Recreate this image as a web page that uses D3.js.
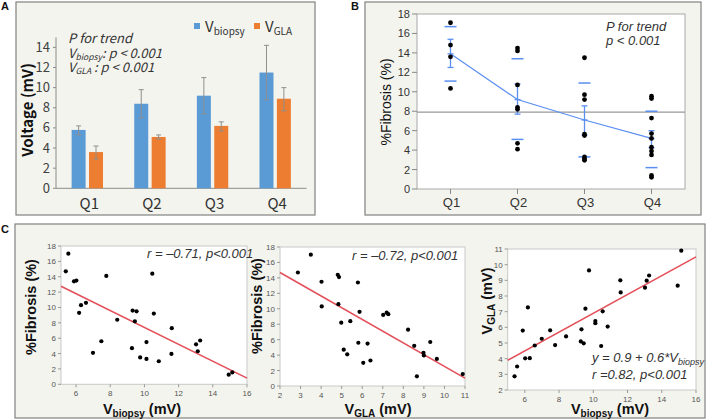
<!DOCTYPE html>
<html><head><meta charset="utf-8">
<script src="https://cdn.jsdelivr.net/npm/d3@7"></script>
<style>body{margin:0;background:#fff} svg{display:block}</style>
</head><body><svg id="c" width="709" height="419"></svg>
<script>
// ---------- DATA ----------
const quartiles = ["Q1", "Q2", "Q3", "Q4"];
const voltageTicks = [0, 2, 4, 6, 8, 10, 12, 14];
const vBiopsyMean = [5.8, 8.4, 9.2, 11.5];
const vBiopsyErrLow = [5.3, 7.0, 7.4, 8.8];
const vBiopsyErrHigh = [6.2, 9.8, 11.0, 14.2];
const vGlaMean = [3.6, 5.1, 6.2, 8.9];
const vGlaErrLow = [2.9, 4.9, 5.7, 7.7];
const vGlaErrHigh = [4.2, 5.3, 6.6, 10.0];

const fibrosisTicks = [0, 2, 4, 6, 8, 10, 12, 14, 16, 18];
const fibQ1 = [17.1, 14.8, 13.6, 10.35];
const fibQ2 = [14.5, 14.2, 10.7, 8.4, 8.2, 4.7, 4.1];
const fibQ3 = [13.5, 9.7, 9.2, 5.65, 5.5, 3.3, 3.1, 2.95];
const fibQ4 = [9.55, 9.3, 7.3, 5.7, 5.2, 4.3, 3.9, 3.5, 1.4, 1.2];
const fibMean = [13.9, 9.2, 7.1, 5.2];
const fibSeLow = [12.5, 7.7, 5.55, 4.25];
const fibSeHigh = [15.4, 10.8, 8.55, 6.0];
const fibSdLow = [11.1, 5.1, 3.3, 2.2];
const fibSdHigh = [16.7, 13.4, 10.9, 8.0];
const fibOverallMean = 7.9;

const patVbiopsy = [5.40, 5.55, 5.88, 6.02, 6.18, 6.29, 6.58, 6.99, 7.48, 7.77, 8.41, 9.27, 9.31, 9.44,
  9.54, 9.75, 10.12, 10.12, 10.46, 10.55, 10.84, 11.60, 11.58, 13.02, 13.12, 13.26, 14.93, 15.14];
const patVgla = [2.87, 3.50, 5.79, 4.02, 7.27, 4.03, 4.84, 5.27, 5.81, 4.87, 5.42, 5.10, 5.87, 4.98,
  7.19, 9.63, 6.26, 6.40, 4.81, 7.02, 6.05, 8.23, 9.00, 8.53, 8.98, 9.31, 8.66, 10.89];
const patFibrosis = [14.7, 17.0, 13.4, 13.5, 9.3, 10.3, 10.6, 4.1, 5.6, 14.1, 8.4, 4.7, 9.6, 8.2,
  9.5, 3.5, 5.5, 3.3, 14.4, 9.2, 3.0, 7.3, 3.95, 5.2, 4.3, 5.7, 1.25, 1.55];

const fitVbiopsyFib = [18.4, -1.1];   // intercept, slope
const fitVglaFib = [17.74, -1.52];
const fitVbiopsyVgla = [0.9, 0.6];

const c1XTicks = [6, 8, 10, 12, 14, 16];
const c2XTicks = [2, 3, 4, 5, 6, 7, 8, 9, 10, 11];
const c3XTicks = [6, 8, 10, 12, 14, 16];
const c3YTicks = [2, 3, 4, 5, 6, 7, 8, 9, 10, 11];

// ---------- DRAW ----------
const svg = d3.select("#c");
const SANS = "'Liberation Sans', Arial, sans-serif";
const NARROW = "'Liberation Sans Narrow', 'Liberation Sans', sans-serif";
const JP = "'Noto Sans CJK JP', 'Noto Sans', sans-serif";
const BG = "#f4f4ee";
const BLUE = "#5b9bd5", ORANGE = "#ed7d31";
const LBLUE = "#5a8ff0", RED = "#e4505a";

function frame(x, y, w, h) {
  svg.append("rect").attr("x", x).attr("y", y).attr("width", w).attr("height", h)
    .attr("fill", BG).attr("stroke", "#808080").attr("stroke-width", 1.2);
}
function letter(t, x, y) {
  svg.append("text").attr("x", x).attr("y", y).text(t)
    .attr("font-family", SANS).attr("font-weight", "bold").attr("font-size", 11).attr("fill", "#111");
}
frame(16, 2, 299, 213);
frame(365, 2, 336, 213);
frame(15, 224, 690, 194);
letter("A", 1, 10); letter("B", 351, 10); letter("C", 1, 233);

// ----- Panel A -----
(function () {
  const g = svg.append("g");
  const x = d3.scaleBand().domain(quartiles).range([56, 306.5]);
  const y = d3.scaleLinear().domain([0, 15]).range([188.3, 37.3]);
  const bw = 14, gap = 1.7;
  g.append("line").attr("x1", x.range()[0]).attr("x2", x.range()[0])
    .attr("y1", y(0)).attr("y2", y(15)).attr("stroke", "#8c8c8c");
  g.append("line").attr("x1", x.range()[0]).attr("x2", x.range()[1])
    .attr("y1", y(0)).attr("y2", y(0)).attr("stroke", "#8c8c8c");
  voltageTicks.forEach(t => {
    g.append("line").attr("x1", x.range()[0] - 3).attr("x2", x.range()[0]).attr("y1", y(t)).attr("y2", y(t)).attr("stroke", "#8c8c8c");
    g.append("text").attr("x", x.range()[0] - 6).attr("y", y(t) + 4.5).attr("text-anchor", "end")
      .attr("font-family", JP).attr("font-size", 13).attr("fill", "#404040").text(t);
  });
  quartiles.forEach((q, i) => {
    const cx = x(q) + x.bandwidth() / 2;
    g.append("text").attr("x", cx + 2).attr("y", 209).attr("text-anchor", "middle")
      .attr("font-family", JP).attr("font-size", 15).attr("fill", "#333").text(q);
    const series = [
      [cx - gap - bw, vBiopsyMean[i], vBiopsyErrLow[i], vBiopsyErrHigh[i], BLUE],
      [cx + gap, vGlaMean[i], vGlaErrLow[i], vGlaErrHigh[i], ORANGE]];
    series.forEach(([bx, v, lo, hi, col]) => {
      g.append("rect").attr("x", bx).attr("y", y(v)).attr("width", bw).attr("height", y(0) - y(v)).attr("fill", col);
      const ex = bx + bw / 2;
      g.append("line").attr("x1", ex).attr("x2", ex).attr("y1", y(lo)).attr("y2", y(hi)).attr("stroke", "#8f8f8f").attr("stroke-width", 1);
      [lo, hi].forEach(e => g.append("line").attr("x1", ex - 2.5).attr("x2", ex + 2.5).attr("y1", y(e)).attr("y2", y(e)).attr("stroke", "#8f8f8f"));
    });
  });
  g.append("text").attr("transform", "translate(33,110) rotate(-90)").attr("text-anchor", "middle")
    .attr("font-family", JP).attr("font-weight", "bold").attr("font-size", 15).attr("fill", "#111").text("Voltage (mV)");
  [[194, BLUE, "biopsy"], [254, ORANGE, "GLA"]].forEach(([lx, col, sub]) => {
    g.append("rect").attr("x", lx).attr("y", 23).attr("width", 6).attr("height", 6).attr("fill", col);
    const t = g.append("text").attr("x", lx + 11).attr("y", 32).attr("font-family", JP).attr("font-size", 15).attr("fill", "#333");
    t.append("tspan").text("V");
    t.append("tspan").attr("dy", 3).attr("font-size", 10).text(sub);
  });
  const size = 13;
  g.append("text").attr("x", 68).attr("y", 43).attr("font-family", JP).attr("font-style", "italic")
    .attr("font-size", size).attr("fill", "#333").text("P for trend");
  [[57.5, "biopsy", ": p < 0.001"], [71.5, "GLA", " : p < 0.001"]].forEach(([ly, sub, rest]) => {
    const t = g.append("text").attr("x", 68).attr("y", ly).attr("font-family", JP).attr("font-style", "italic")
      .attr("font-size", size).attr("fill", "#333");
    t.append("tspan").text("V");
    t.append("tspan").attr("dy", 2.5).attr("font-size", 8.5).text(sub);
    t.append("tspan").attr("dy", -2.5).text(rest);
  });
})();

// ----- Panel B -----
(function () {
  const g = svg.append("g");
  const x = d3.scalePoint().domain(quartiles).range([417, 685]).padding(0.5);
  const y = d3.scaleLinear().domain([0, 18]).range([189, 14]);
  g.append("rect").attr("x", 417).attr("y", 14).attr("width", 268).attr("height", 175)
    .attr("fill", "#fff").attr("stroke", "#a8a8a8");
  fibrosisTicks.forEach(t => {
    g.append("line").attr("x1", 412).attr("x2", 417).attr("y1", y(t)).attr("y2", y(t)).attr("stroke", "#888");
    g.append("text").attr("x", 410).attr("y", y(t) + 4).attr("text-anchor", "end")
      .attr("font-family", SANS).attr("font-size", 11).attr("fill", "#333").text(t);
  });
  quartiles.forEach(q => {
    g.append("line").attr("x1", x(q)).attr("x2", x(q)).attr("y1", 189).attr("y2", 194).attr("stroke", "#888");
    g.append("text").attr("x", x(q) + 1).attr("y", 207).attr("text-anchor", "middle")
      .attr("font-family", SANS).attr("font-size", 13).attr("fill", "#333").text(q);
  });
  g.append("line").attr("x1", 417).attr("x2", 685).attr("y1", y(fibOverallMean)).attr("y2", y(fibOverallMean))
    .attr("stroke", "#999").attr("stroke-width", 1.2);
  const groups = [fibQ1, fibQ2, fibQ3, fibQ4];
  quartiles.forEach((q, i) => {
    const cx = x(q);
    [fibSdLow[i], fibSdHigh[i]].forEach(v => g.append("line").attr("x1", cx - 6).attr("x2", cx + 6)
      .attr("y1", y(v)).attr("y2", y(v)).attr("stroke", LBLUE).attr("stroke-width", 1.5));
    g.append("line").attr("x1", cx).attr("x2", cx).attr("y1", y(fibSeLow[i])).attr("y2", y(fibSeHigh[i]))
      .attr("stroke", LBLUE).attr("stroke-width", 1.3);
    [fibSeLow[i], fibSeHigh[i]].forEach(v => g.append("line").attr("x1", cx - 3).attr("x2", cx + 3)
      .attr("y1", y(v)).attr("y2", y(v)).attr("stroke", LBLUE).attr("stroke-width", 1.3));
    g.append("line").attr("x1", cx - 3).attr("x2", cx + 3).attr("y1", y(fibMean[i])).attr("y2", y(fibMean[i]))
      .attr("stroke", LBLUE).attr("stroke-width", 1.3);
  });
  g.append("path").datum(fibMean).attr("fill", "none").attr("stroke", LBLUE).attr("stroke-width", 1.2)
    .attr("d", d3.line().x((d, i) => x(quartiles[i])).y(d => y(d)));
  groups.forEach((arr, i) => {
    g.selectAll(null).data(arr).enter().append("circle").attr("cx", x(quartiles[i])).attr("cy", d => y(d))
      .attr("r", 2.4).attr("fill", "#000");
  });
  g.append("text").attr("transform", "translate(391,102) rotate(-90)").attr("text-anchor", "middle")
    .attr("font-family", SANS).attr("font-size", 14).attr("fill", "#111").text("%Fibrosis (%)");
  g.append("text").attr("x", 606).attr("y", 31).attr("font-family", SANS).attr("font-style", "italic")
    .attr("font-size", 13).attr("fill", "#333").text("P for trend");
  g.append("text").attr("x", 606).attr("y", 45).attr("font-family", SANS).attr("font-style", "italic")
    .attr("font-size", 13).attr("fill", "#333").text("p < 0.001");
})();

// ----- Panel C scatter helper -----
function scatter(opt) {
  const g = svg.append("g");
  const x = d3.scaleLinear().domain(opt.xd).range(opt.xr);
  const y = d3.scaleLinear().domain(opt.yd).range(opt.yr);
  g.append("rect").attr("x", opt.xr[0]).attr("y", opt.yr[1]).attr("width", opt.xr[1] - opt.xr[0])
    .attr("height", opt.yr[0] - opt.yr[1]).attr("fill", "#fff").attr("stroke", "#c8c8c8");
  opt.yt.forEach(t => {
    g.append("line").attr("x1", opt.xr[0] - 3).attr("x2", opt.xr[0]).attr("y1", y(t)).attr("y2", y(t)).attr("stroke", "#999");
    g.append("text").attr("x", opt.xr[0] - 5).attr("y", y(t) + 3).attr("text-anchor", "end")
      .attr("font-family", SANS).attr("font-size", 8).attr("fill", "#555").text(t);
  });
  opt.xt.forEach(t => {
    g.append("line").attr("x1", x(t)).attr("x2", x(t)).attr("y1", opt.yr[0]).attr("y2", opt.yr[0] + 3).attr("stroke", "#999");
    g.append("text").attr("x", x(t)).attr("y", opt.yr[0] + 11.5).attr("text-anchor", "middle")
      .attr("font-family", SANS).attr("font-size", 8).attr("fill", "#555").text(t);
  });
  const [b0, b1] = opt.fit;
  const xa = opt.xd[0], xb = opt.xd[1];
  g.append("line").attr("x1", x(xa)).attr("x2", x(xb)).attr("y1", y(b0 + b1 * xa)).attr("y2", y(b0 + b1 * xb))
    .attr("stroke", RED).attr("stroke-width", 1.6);
  g.selectAll(null).data(opt.xs.map((v, i) => [v, opt.ys[i]])).enter().append("circle")
    .attr("cx", d => x(d[0])).attr("cy", d => y(d[1])).attr("r", 2.1).attr("fill", "#000");
  return g;
}
function axisLabel(g, x, y, rot, main, sub, rest) {
  const t = g.append("text").attr("transform", `translate(${x},${y})` + (rot ? " rotate(-90)" : ""))
    .attr("text-anchor", "middle").attr("font-family", NARROW).attr("font-weight", "bold")
    .attr("font-size", 14.5).attr("fill", "#111");
  t.append("tspan").text(main);
  if (sub) {
    t.append("tspan").attr("dy", 2.5).attr("font-size", 10).text(sub);
    t.append("tspan").attr("dy", -2.5).text(rest);
  }
}
function note(g, x, y, parts) {
  const t = g.append("text").attr("x", x).attr("y", y).attr("font-family", SANS).attr("font-style", "italic")
    .attr("font-size", 13).attr("fill", "#333");
  parts.forEach(p => {
    const s = t.append("tspan").text(p.t);
    if (p.sub) s.attr("dy", 3).attr("font-size", 9);
  });
}

const g1 = scatter({ xd: [5.12, 16], xr: [61, 247], yd: [0, 18], yr: [384.3, 246], xt: c1XTicks, yt: fibrosisTicks,
  xs: patVbiopsy, ys: patFibrosis, fit: fitVbiopsyFib });
axisLabel(g1, 36, 307, true, "%Fibrosis (%)");
axisLabel(g1, 142, 414, false, "V", "biopsy", " (mV)");
note(g1, 147, 258, [{ t: "r = \u20130.71, p<0.001" }]);

const g2 = scatter({ xd: [2, 11], xr: [280, 465], yd: [0, 18], yr: [386, 247], xt: c2XTicks, yt: fibrosisTicks,
  xs: patVgla, ys: patFibrosis, fit: fitVglaFib });
axisLabel(g2, 262, 306, true, "%Fibrosis (%)");
axisLabel(g2, 378, 414, false, "V", "GLA", " (mV)");
note(g2, 352, 260, [{ t: "r = \u20130.72, p<0.001" }]);

const g3 = scatter({ xd: [5, 16], xr: [507.7, 696], yd: [2, 11], yr: [390, 249], xt: c3XTicks, yt: c3YTicks,
  xs: patVbiopsy, ys: patVgla, fit: fitVbiopsyVgla });
axisLabel(g3, 492, 301, true, "V", "GLA", " (mV)");
axisLabel(g3, 610, 414, false, "V", "biopsy", " (mV)");
note(g3, 592, 362, [{ t: "y = 0.9 + 0.6*V" }, { t: "biopsy", sub: true }]);
note(g3, 592, 379, [{ t: "r =0.82, p<0.001" }]);
</script></body></html>
